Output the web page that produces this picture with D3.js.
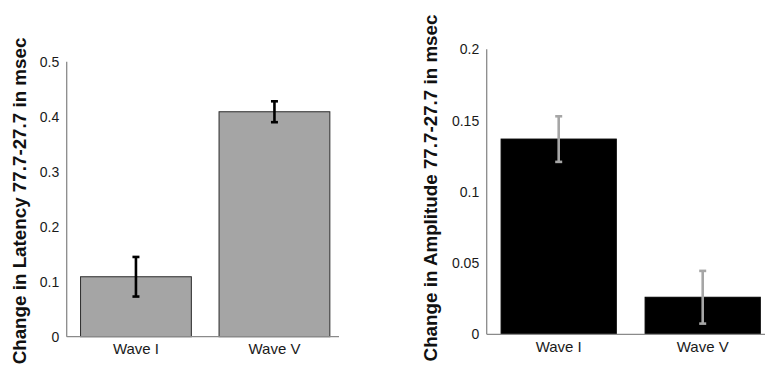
<!DOCTYPE html>
<html>
<head>
<meta charset="utf-8">
<script src="https://cdn.jsdelivr.net/npm/d3@7"></script>
<style>
  html, body { margin: 0; padding: 0; background: #fff; }
  svg { display: block; font-family: "Liberation Sans", Arial, sans-serif; }
</style>
</head>
<body>
<svg id="chart" width="765" height="367"></svg>
<script>
// Categories shared by both panels
const categories = ["Wave I", "Wave V"];

// Latency change (msec) with error half-widths
const latencyValues = [0.109, 0.409];
const latencyErrors = [0.036, 0.019];
const latencyTicks = [0, 0.1, 0.2, 0.3, 0.4, 0.5];

// Amplitude change with error half-widths
const amplitudeValues = [0.137, 0.026];
const amplitudeErrors = [0.016, 0.0185];
const amplitudeTicks = [0, 0.05, 0.1, 0.15, 0.2];

const svg = d3.select("#chart");

function panel(opts) {
  const g = svg.append("g");
  const y = d3.scaleLinear().domain(opts.yDomain).range([opts.y0, opts.y1]);
  const x = d3.scaleBand().domain(categories)
    .range([opts.xLeft, opts.xLeft + opts.bandSpan])
    .paddingInner(0.2).paddingOuter(0.1);

  // Tick labels (no tick marks)
  g.selectAll("text.tick").data(opts.ticks).join("text")
    .attr("class", "tick")
    .attr("x", opts.xLeft - 7.5)
    .attr("y", d => y(d))
    .attr("dy", "0.36em")
    .attr("text-anchor", "end")
    .attr("font-size", 14)
    .attr("fill", "#1a1a1a")
    .text(d => d3.format("~g")(d));

  // Bars
  g.selectAll("rect.bar").data(opts.values).join("rect")
    .attr("class", "bar")
    .attr("x", (d, i) => x(categories[i]))
    .attr("width", x.bandwidth())
    .attr("y", d => y(d))
    .attr("height", d => y(0) - y(d))
    .attr("fill", opts.fill)
    .attr("stroke", opts.stroke)
    .attr("stroke-width", 1);

  // Axis lines
  g.append("line")
    .attr("x1", opts.xLeft).attr("x2", opts.xLeft)
    .attr("y1", y(opts.yDomain[1])).attr("y2", y(0))
    .attr("stroke", "#8a8a8a").attr("stroke-width", 1.3);
  g.append("line")
    .attr("x1", opts.xLeft).attr("x2", opts.xRight)
    .attr("y1", y(0)).attr("y2", y(0))
    .attr("stroke", "#8a8a8a").attr("stroke-width", 1.3);

  // Error bars
  const eb = g.selectAll("g.err").data(opts.values).join("g").attr("class", "err");
  eb.append("line")
    .attr("x1", (d, i) => x(categories[i]) + x.bandwidth() / 2)
    .attr("x2", (d, i) => x(categories[i]) + x.bandwidth() / 2)
    .attr("y1", (d, i) => y(d + opts.errors[i]))
    .attr("y2", (d, i) => y(d - opts.errors[i]))
    .attr("stroke", opts.errColor).attr("stroke-width", 2.6);
  [1, -1].forEach(s => {
    eb.append("line")
      .attr("x1", (d, i) => x(categories[i]) + x.bandwidth() / 2 - 3.5)
      .attr("x2", (d, i) => x(categories[i]) + x.bandwidth() / 2 + 3.5)
      .attr("y1", (d, i) => y(d + s * opts.errors[i]))
      .attr("y2", (d, i) => y(d + s * opts.errors[i]))
      .attr("stroke", opts.errColor).attr("stroke-width", 2.6);
  });

  // Category labels
  g.selectAll("text.cat").data(categories).join("text")
    .attr("class", "cat")
    .attr("x", d => x(d) + x.bandwidth() / 2)
    .attr("y", y(0) + 17.5)
    .attr("text-anchor", "middle")
    .attr("font-size", 15)
    .attr("fill", "#1a1a1a")
    .text(d => d);

  // Y axis title (baseline on the right side after rotation)
  g.append("text")
    .attr("transform", `translate(${opts.titleX},${opts.titleY}) rotate(-90)`)
    .attr("text-anchor", "middle")
    .attr("font-size", 18.8)
    .attr("font-weight", "bold")
    .attr("fill", "#111")
    .text(opts.title);
}

panel({
  values: latencyValues, errors: latencyErrors, ticks: latencyTicks,
  yDomain: [0, 0.5], y0: 336.7, y1: 61.7,
  xLeft: 66.7, xRight: 339, bandSpan: 277,
  fill: "#a5a5a5", stroke: "#2b2b2b", errColor: "#000",
  title: "Change in Latency 77.7-27.7 in msec", titleX: 25.5, titleY: 201
});

panel({
  values: amplitudeValues, errors: amplitudeErrors, ticks: amplitudeTicks,
  yDomain: [0, 0.2], y0: 334.3, y1: 49.3,
  xLeft: 486.7, xRight: 765, bandSpan: 288,
  fill: "#000", stroke: "#000", errColor: "#a6a6a6",
  title: "Change in Amplitude 77.7-27.7 in msec", titleX: 437, titleY: 188
});
</script>
</body>
</html>
